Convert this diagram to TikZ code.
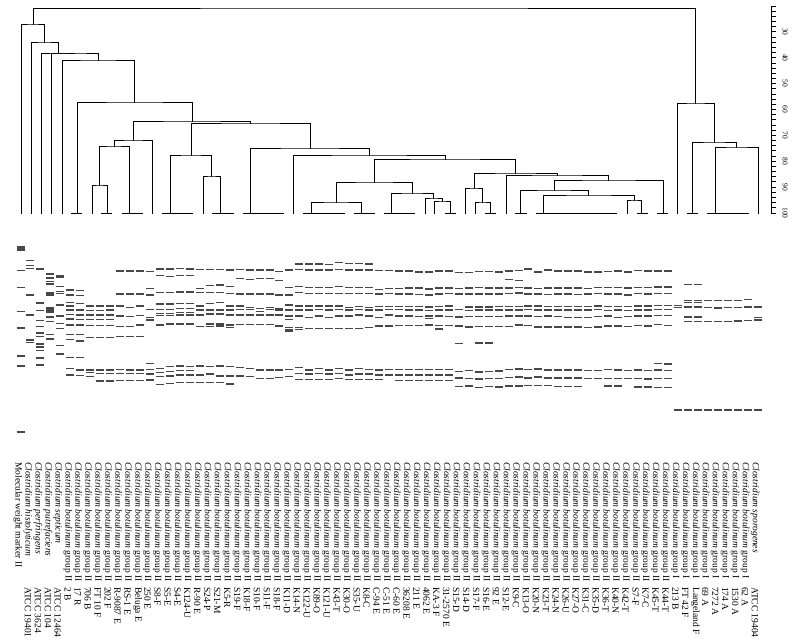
\documentclass[tikz,border=0pt]{standalone}
\usepackage{fontspec}
\setmainfont{Liberation Serif}
\newcommand{\cbtwo}{\textit{Clostridium botulinum} group II}
\newcommand{\cbone}{\textit{Clostridium botulinum} group I}

\begin{document}
\begin{tikzpicture}[x=1pt, y=-1pt,
    tree/.style = {line width=1pt, line cap=rect},
    band/.style = {line width=1.5pt, black!72},
    lbl/.style = {rotate=-90, anchor=west, inner sep=0pt, font=\fontsize{9.5}{10}\selectfont},
    tick/.style = {rotate=-90, inner sep=0pt, font=\fontsize{7.5}{8}\selectfont}]
        \useasboundingbox (0,0) rectangle (800,641);
        % leaves of the dendrogram
        \coordinate (l1) at (21,213); \coordinate (l2) at (31,213); %
        \coordinate (l3) at (41,213); \coordinate (l4) at (51,213); %
        \coordinate (l5) at (62,213); \coordinate (l6) at (77,213); %
        \coordinate (l8) at (92,213); \coordinate (l9) at (107,213); %
        \coordinate (l11) at (129,213); \coordinate (l14) at (152,213); %
        \coordinate (l15) at (170,213); \coordinate (l19) at (203,213); %
        \coordinate (l20) at (220,213); \coordinate (l23) at (250,213); %
        \coordinate (l28) at (293,213); \coordinate (l29) at (311,213); %
        \coordinate (l34) at (361,213); \coordinate (l37) at (391,213); %
        \coordinate (l41) at (425,213); \coordinate (l42) at (434,213); %
        \coordinate (l43) at (450,213); \coordinate (l45) at (465,213); %
        \coordinate (l46) at (475,213); \coordinate (l47) at (490,213); %
        \coordinate (l49) at (506,213); \coordinate (l50) at (520,213); %
        \coordinate (l52) at (543,213); \coordinate (l61) at (627,213); %
        \coordinate (l62) at (641,213); \coordinate (l64) at (663,213); %
        \coordinate (l66) at (677,213); \coordinate (l67) at (692,213); %
        \coordinate (l69) at (715,213); \coordinate (l74) at (758,213); %
        % joins
        \coordinate (n1) at (99.5,185); \coordinate (n2) at (114,146); %
        \coordinate (n3) at (133,140); \coordinate (n4) at (211.5,176); %
        \coordinate (n5) at (191,155); \coordinate (n6) at (336,202); %
        \coordinate (n7) at (442,201); \coordinate (n8) at (433.5,198); %
        \coordinate (n9) at (412,193); \coordinate (n10) at (374,182); %
        \coordinate (n11) at (482.5,202); \coordinate (n12) at (474,188); %
        \coordinate (n13) at (634,200); \coordinate (n14) at (588.5,195); %
        \coordinate (n15) at (554,190); \coordinate (n16) at (608.5,180); %
        \coordinate (n17) at (557,175); \coordinate (n18) at (515.5,173); %
        \coordinate (n19) at (445,159); \coordinate (n20) at (369,155); %
        \coordinate (n21) at (310,148); \coordinate (n22) at (250.5,123); %
        \coordinate (n23) at (192,121); \coordinate (n24) at (134.5,102); %
        \coordinate (n25) at (98,60); \coordinate (n26) at (74.5,53); %
        \coordinate (n27) at (58,53); \coordinate (n28) at (44.5,42); %
        \coordinate (n29) at (33,24); \coordinate (n30) at (736.5,147); %
        \coordinate (n31) at (714,142); \coordinate (n32) at (695.5,103); %
        \coordinate (n33) at (364,8); %
        %
        \foreach \a/\n/\b in {l8/n1/l9, n1/n2/l11, n2/n3/l14, l19/n4/l20, l15/n5/n4,
            l29/n6/l34, l42/n7/l43, l41/n8/n7, l37/n9/n8, n6/n10/n9, l46/n11/l47,
            l45/n12/n11, l61/n13/l62, l52/n14/n13, l50/n15/n14, n15/n16/l64,
            l49/n17/n16, n12/n18/n17, n10/n19/n18, l28/n20/n19, l23/n21/n20,
            n5/n22/n21, n3/n23/n22, l6/n24/n23, l5/n25/n24, l4/n26/n25,
            l3/n27/n26, l2/n28/n27, l1/n29/n28, l69/n30/l74, l67/n31/n30,
            l66/n32/n31, n29/n33/n32}
            \draw[tree] (\a) |- (\n) -| (\b); %
        % identical lanes
        \foreach \a/\b in {71.5/81.6, 101.8/111.9, 122/142.2, 162.4/192.7, 212.9/233.1,
            243.2/283.6, 303.8/344.2, 354.3/374.5, 384.6/414.9, 445.2/455.3,
            485.6/495.7, 515.9/526, 536.1/616.9, 637.1/647.2, 657.3/667.4,
            687.6/697.7, 707.8/748.2}
            \draw[tree] (\a,213) -- (\b,213); %
        % similarity scale
        \coordinate (s20) at (771,6.1); \coordinate (s100) at (771,213); %
        \draw[tree] (s20) -- (s100); %
        \foreach \v in {20,22,...,100}
            \draw[tree] (771,{213-(100-\v)*2.586}) -- ++(4,0); %
        \foreach \v in {30,40,...,100}
            \node[tick] (ax\v) at (785,{213-(100-\v)*2.586}) {\v}; %
        % gel lanes
        \foreach \l/\ys in {
            0/{247,248.5,250,270.5,287.5,311.5,328,356,366,432},
            1/{260.5,265.5,268.5,295,315,340,342.5},
            2/{269,303,310.5,320.5,326.5,333,336.5,344,347,350.5,358,365},
            3/{274,278,281.5,284,293,295,308,310,312,317,321.5,334.5,339},
            4/{276,277.5,286.5,291.5,293.5,305,316,323.5,328.5,345.5,354},
            5/{290,295,302.5,306,310,314.5,319,325,334.5,339.5,357.5,368.5,375},
            6/{290.5,295.5,303.5,310,315,319.5,325,334.5,341,357.5,370,375.5},
            7/{306,310.5,315,319.5,325.5,337.5,370,372.5,376.5},
            8/{306,310.5,315,319.5,325.5,337.5,370,373.5,381},
            9/{306,310,315,319.5,325.5,337.5,370,373.5,381},
            10/{271,294,306,316,326.5,336.5,369.5,373.5,380.5},
            11/{271,294,307.5,316.5,326.5,336.5,370,373.5,380.5},
            12/{271,294,306,315.5,325,336.5,370,373.5,380.5},
            13/{271.5,288.5,295,309.5,317.5,320,363.5,369.5,374,380},
            14/{269,275.5,292.5,304,309.5,313.5,315.5,325,368.5,372.5,376.5,384.5},
            15/{269,276.5,292.5,304,309.5,313.5,315.5,324,366.5,371.5,376,383.5},
            16/{268.5,275.5,292,303.5,308.5,312.5,315,324,366,370.5,375,382.5},
            17/{269,275.5,292,303.5,308.5,312.5,315,324,366.5,370.5,375,382.5},
            18/{269.5,288.5,292.5,306,310,315,326.5,366,375,382.5},
            19/{269.5,285.5,292.5,303.5,310,314,324,326.5,366.5,374,382.5},
            20/{269.5,285,292.5,302.5,310,314,324,326,366,376,382.5},
            21/{270,286.5,293.5,306,310,315,325,327.5,366.5,376,384},
            22/{269.5,278.5,294,306,309.5,315,324.5,367.5,376},
            23/{270,279.5,294,307.5,309.5,315,324.5,368.5,376.5},
            24/{270,278.5,294,308.5,311.5,315,324.5,370,378.5},
            25/{270,278.5,294,307.5,309.5,315,324.5,370,378.5},
            26/{271.5,280.5,295,308.5,310,315,326,370,377.5},
            27/{270,287.5,295,305,310,316,319.5,327.5,329.5,331,369.5,376.5},
            28/{264,269.5,286.5,292.5,306,310,316,327.5,329.5,367.5,373.5,379.5},
            29/{264,270,287.5,293.5,306,310,317.5,328.5,370,374,379.5},
            30/{264,270,287.5,293.5,306,309.5,316,328.5,368.5,373.5,379.5},
            31/{264.5,270,287.5,293.5,306,310,317.5,328.5,370,374,379.5},
            32/{262.5,269.5,286.5,293.5,306,309.5,316,328.5,368.5,373.5,378.5},
            33/{263.5,270,287.5,293.5,307.5,310,316,328.5,370,375,379.5},
            34/{263.5,270,287.5,293.5,306.5,309.5,315,328.5,368.5,374,379.5},
            35/{264,270,287.5,293.5,307.5,310,316,327.5,369.5,374,379.5},
            36/{270.5,289.5,294,306.5,310,317.5,326,370,375,379.5},
            37/{270.5,288.5,293.5,306.5,309.5,315,326,369.5,375},
            38/{271,288.5,294,306.5,309.5,316,325.5,369.5,375,380.5},
            39/{271,288,294,306.5,310,316,325.5,369.5,375,380.5},
            40/{272,288,294.5,306.5,310,316.5,325.5,369.5,375,380.5},
            41/{272,289,295,307,310.5,316,318.5,325,369.5,375,380.5},
            42/{271,288,294,306.5,310,316,325.5,329,369.5,375,380.5},
            43/{271,288,293.5,306,310,316.5,325.5,369.5,375,380.5},
            44/{272.5,288.5,294,309.5,317,326,343.5,371.5,378,386.5},
            45/{272.5,288,294,307,310.5,316.5,327,370.5,378.5,386},
            46/{271.5,287.5,294,307,310,316.5,326.5,343,372,379,387.5},
            47/{271.5,288,294,307,310,316.5,326.5,343,371.5,378.5,386.5},
            48/{272,288,294,306.5,310,316.5,326.5,371,378.5,387},
            49/{271,279.5,288,293.5,306.5,310,316,326.5,369.5,377.5,386},
            50/{270.5,280.5,287.5,293,306.5,310,316,325,369,377,386},
            51/{269,288,294,306,309.5,316,325.5,369.5,378,385.5},
            52/{272,288.5,294,306,310,316.5,327,369,377,385.5},
            53/{270,288,294.5,306.5,310,316,327,370,378,385.5},
            54/{271,288,294,306.5,310,316.5,327,370,378,386.5},
            55/{271,288,294,306.5,310,317.5,327,370,378,386.5},
            56/{271,288,294.5,306.5,310,317.5,327,370,378,386.5},
            57/{272,288.5,294,306.5,310,317.5,327.5,370.5,378.5},
            58/{272,287.5,293.5,306,309.5,316.5,327,370.5,378.5},
            59/{271.5,287.5,294,306.5,310.5,316,326,369.5,378.5,386},
            60/{271,287.5,294,306.5,310,317.5,326,370,378.5,386},
            61/{272,288,295,306.5,310.5,316.5,326.5,370.5,378.5},
            62/{270.5,287.5,293.5,306,310,316,325.5,370,378.5,387},
            63/{271,287.5,294,306,310,316,326,370.5,379,387},
            64/{271,287,293.5,305.5,309.5,315.5,324.5,363.5,370,378.5,387.5},
            65/{271,287,293.5,305.5,309.5,315.5,325.5,364,370.5,378.5,387.5},
            66/{305.5,307.5,410},
            67/{284.5,300.5,302.5,307,317,321.5,410},
            68/{284.5,300.5,302.5,307,317,321.5,410},
            69/{300.5,307.5,321.5,410},
            70/{300.5,308,321.5,410},
            71/{300.5,307.5,321.5,410},
            72/{300.5,307.5,321,410},
            73/{299.5,307,320.5,410},
            74/{307,317.5,320,410}}
            \foreach \y in \ys
                \draw[band] ({16.5+9.96*\l},\y) -- ++(8,0); %
        % lane names
        \node[lbl] (sp0) at (18,462) {Molecular weight marker II}; %
        \node[lbl] (sp1) at ({18+9.96},462) {\textit{Clostridium histolyticum}}; %
        \node[lbl] (sp2) at ({18+9.96*2},462) {\textit{Clostridium perfringens}}; %
        \node[lbl] (sp3) at ({18+9.96*3},462) {\textit{Clostridium putrefaciens}}; %
        \node[lbl] (sp4) at ({18+9.96*4},462) {\textit{Clostridium septicum}}; %
        \foreach \i in {5,...,65}
            \node[lbl] (sp\i) at ({18+9.96*\i},462) {\cbtwo}; %
        \foreach \i in {66,...,73}
            \node[lbl] (sp\i) at ({18+9.96*\i},462) {\cbone}; %
        \node[lbl] (sp74) at ({18+9.96*74},462) {\textit{Clostridium sporogenes}}; %
        \foreach \s [count=\i from 1] in {ATCC 19401, ATCC 3624, ATCC 104, ATCC 12464,
            2 B, 17 R, 706 B, FT 10 F, 202 F, R-9087 E, RS-1 E, Beluga E, 250 E,
            S8-F, S5-E, S4-E, K124-U, R-90 E, S24-P, S21-M, K5-R, S19-F, K18-F,
            S10-F, S11-F, S18-F, K11-D, K14-N, K122-U, K89-O, K121-U, K43-T,
            K30-O, S35-U, K8-C, C-94 E, C-51 E, C-60 E, 36208 E, 211 E, 4062 E,
            KA-3 F, 31-2570 E, S15-D, S14-D, S17-F, S16-E, 92 E, S12-E, K9-C,
            K13-O, K20-N, K23-T, K24-N, K26-U, K27-O, K31-C, K35-D, K36-T,
            K40-N, K42-T, S7-F, K7-C, K45-T, K44-T, 213 B, FT 42 F, Langeland F,
            69 A, 7272 A, 174 A, 1530 A, 62 A, ATCC 19404}
            \node[lbl] (st\i) at ({18+9.96*\i},587) {\s}; %
\end{tikzpicture}
\end{document}
